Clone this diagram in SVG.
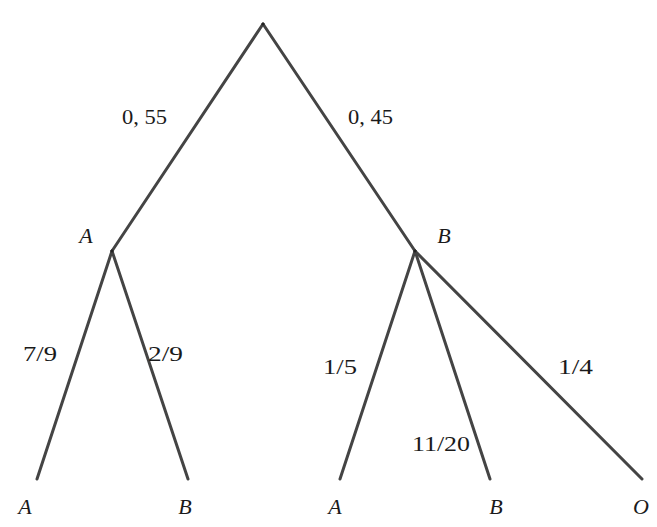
<svg xmlns="http://www.w3.org/2000/svg" width="657" height="527" viewBox="0 0 657 527">
<style>
.e{stroke:#444;stroke-width:3;stroke-linecap:round;fill:none}
.n{font-family:"Liberation Serif","DejaVu Serif",serif;font-size:21px;fill:#1a1a1a;text-anchor:middle}
.v{font-family:"Liberation Serif","DejaVu Serif",serif;font-size:22px;font-style:italic;fill:#1a1a1a;text-anchor:middle}
</style>
<rect width="657" height="527" fill="#fff"/>
<g id="connectors">
<line class="e" x1="263" y1="24" x2="112" y2="251"/>
<line class="e" x1="263" y1="24" x2="415" y2="251"/>
<line class="e" x1="112" y1="251" x2="37" y2="479"/>
<line class="e" x1="112" y1="251" x2="188" y2="479"/>
<line class="e" x1="415" y1="251" x2="340" y2="479"/>
<line class="e" x1="415" y1="251" x2="490" y2="479"/>
<line class="e" x1="415" y1="251" x2="642" y2="479"/>
</g>
<g id="edge-labels">
<text class="n" x="144.5" y="124" textLength="45" lengthAdjust="spacingAndGlyphs">0, 55</text>
<text class="n" x="370.5" y="124" textLength="45" lengthAdjust="spacingAndGlyphs">0, 45</text>
<text class="n" x="40" y="361" textLength="34" lengthAdjust="spacingAndGlyphs">7/9</text>
<text class="n" x="165.5" y="361" textLength="35" lengthAdjust="spacingAndGlyphs">2/9</text>
<text class="n" x="340" y="374" textLength="34" lengthAdjust="spacingAndGlyphs">1/5</text>
<text class="n" x="575.5" y="374" textLength="35" lengthAdjust="spacingAndGlyphs">1/4</text>
<text class="n" x="441" y="451" textLength="58" lengthAdjust="spacingAndGlyphs">11/20</text>
</g>
<g id="node-root"><circle cx="263" cy="24" r="1.5" fill="#222"/></g>
<g id="node-A"><circle cx="112" cy="251" r="1.5" fill="#222"/><text class="v" x="86" y="243">A</text></g>
<g id="node-B"><circle cx="415" cy="251" r="1.5" fill="#222"/><text class="v" x="444" y="243">B</text></g>
<g id="leaf-AA"><text class="v" x="25" y="514">A</text></g>
<g id="leaf-AB"><text class="v" x="185" y="514">B</text></g>
<g id="leaf-BA"><text class="v" x="335" y="514">A</text></g>
<g id="leaf-BB"><text class="v" x="496" y="514">B</text></g>
<g id="leaf-BO"><text class="v" x="641" y="514">O</text></g>
</svg>
